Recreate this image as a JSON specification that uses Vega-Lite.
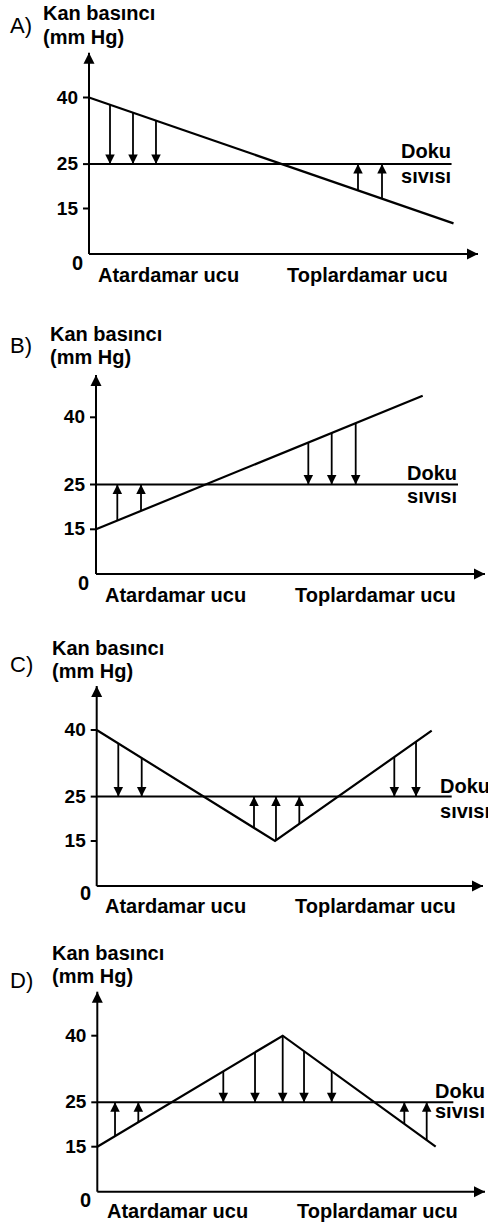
{
  "$schema": "https://vega.github.io/schema/vega-lite/v6.json",
  "padding": 0,
  "spacing": 0,
  "bounds": "flush",
  "background": "white",
  "config": {"view": {"stroke": null}},
  "resolve": {"scale": {"x": "independent", "y": "independent"}},
  "vconcat": [
    {
      "width": 488, "height": 300,
      "encoding": {
        "x": {"field": "x", "type": "quantitative", "scale": {"domain": [0, 100], "range": [89, 478]}, "axis": null},
        "y": {"field": "y", "type": "quantitative", "scale": {"domain": [0, 15, 40], "range": [254, 208.5, 97.5], "nice": false, "zero": false}, "axis": null}
      },
      "layer": [
        {"data": {"values": [{"x": 0, "y": 0, "x2": 0, "y2": 50.1, "dir": "up"}, {"x": 0, "y": 0, "x2": 100, "y2": 0, "dir": "right"}]},
         "layer": [
           {"mark": {"type": "rule", "color": "black", "strokeWidth": 2}, "encoding": {"x2": {"field": "x2"}, "y2": {"field": "y2"}}},
           {"mark": {"type": "point", "filled": true, "fill": "black", "strokeWidth": 0, "opacity": 1, "size": 121},
            "encoding": {"x": {"field": "x2", "type": "quantitative", "axis": null}, "y": {"field": "y2", "type": "quantitative", "axis": null},
                         "shape": {"field": "dir", "type": "nominal", "scale": {"domain": ["up", "down", "right"], "range": ["M0,0L-1,2L1,2Z", "M0,0L-1,-2L1,-2Z", "M0,0L-2,-1L-2,1Z"]}, "legend": null}}}
         ]},
        {"data": {"values": [{"x": 0, "xt": -1.55, "y": 15, "label": "15"}, {"x": 0, "xt": -1.55, "y": 25, "label": "25"}, {"x": 0, "xt": -1.55, "y": 40, "label": "40"}]},
         "layer": [
           {"mark": {"type": "rule", "color": "black", "strokeWidth": 2}, "encoding": {"x2": {"field": "xt"}}},
           {"mark": {"type": "text", "align": "right", "baseline": "middle", "dx": -11, "font": "Liberation Sans", "fontWeight": "bold", "fontSize": 19, "color": "black"}, "encoding": {"text": {"field": "label"}}}
         ]},
        {"data": {"values": [{"x": 0, "x2": 93.2, "y": 25}]}, "mark": {"type": "rule", "color": "black", "strokeWidth": 2}, "encoding": {"x2": {"field": "x2"}}},
        {"data": {"values": [{"x": 0, "y": 40}, {"x": 93.7, "y": 10.1}]}, "mark": {"type": "line", "color": "black", "strokeWidth": 2.2}},
        {"data": {"values": [
           {"x": 5.4, "y": 38.37, "y2": 25, "dir": "down"}, {"x": 11.31, "y": 36.58, "y2": 25, "dir": "down"}, {"x": 17.22, "y": 34.8, "y2": 25, "dir": "down"},
           {"x": 69.15, "y": 19.08, "y2": 25, "dir": "up"}, {"x": 75.32, "y": 17.21, "y2": 25, "dir": "up"}]},
         "layer": [
           {"mark": {"type": "rule", "color": "black", "strokeWidth": 1.8}, "encoding": {"y2": {"field": "y2"}}},
           {"mark": {"type": "point", "filled": true, "fill": "black", "strokeWidth": 0, "opacity": 1, "size": 90},
            "encoding": {"y": {"field": "y2", "type": "quantitative", "axis": null},
                         "shape": {"field": "dir", "type": "nominal", "scale": {"domain": ["up", "down", "right"], "range": ["M0,0L-1,2L1,2Z", "M0,0L-1,-2L1,-2Z", "M0,0L-2,-1L-2,1Z"]}, "legend": null}}}
         ]},
        {"data": {"values": [
           {"x": -11.83, "y": 57.45, "label": "Kan basıncı"}, {"x": -11.83, "y": 52.05, "label": "(mm Hg)"},
           {"x": -4.37, "y": -5.28, "label": "0"},
           {"x": 2.31, "y": -9.23, "label": "Atardamar ucu"}, {"x": 50.9, "y": -9.23, "label": "Toplardamar ucu"},
           {"x": 80.21, "y": 26.37, "label": "Doku"}, {"x": 80.21, "y": 20.74, "label": "sıvısı"}]},
         "mark": {"type": "text", "align": "left", "baseline": "alphabetic", "font": "Liberation Sans", "fontWeight": "bold", "fontSize": 20, "color": "black"},
         "encoding": {"text": {"field": "label"}}},
        {"data": {"values": [{"x": -20.31, "y": 54.53, "label": "A)"}]},
         "mark": {"type": "text", "align": "left", "baseline": "alphabetic", "font": "Liberation Sans", "fontWeight": "normal", "fontSize": 22, "color": "black"},
         "encoding": {"text": {"field": "label"}}}
      ]
    },
    {
      "width": 488, "height": 310,
      "encoding": {
        "x": {"field": "x", "type": "quantitative", "scale": {"domain": [0, 100], "range": [96, 485]}, "axis": null},
        "y": {"field": "y", "type": "quantitative", "scale": {"domain": [0, 15, 40], "range": [274, 229.3, 117.3], "nice": false, "zero": false}, "axis": null}
      },
      "layer": [
        {"data": {"values": [{"x": 0, "y": 0, "x2": 0, "y2": 49.44, "dir": "up"}, {"x": 0, "y": 0, "x2": 100, "y2": 0, "dir": "right"}]},
         "layer": [
           {"mark": {"type": "rule", "color": "black", "strokeWidth": 2}, "encoding": {"x2": {"field": "x2"}, "y2": {"field": "y2"}}},
           {"mark": {"type": "point", "filled": true, "fill": "black", "strokeWidth": 0, "opacity": 1, "size": 121},
            "encoding": {"x": {"field": "x2", "type": "quantitative", "axis": null}, "y": {"field": "y2", "type": "quantitative", "axis": null},
                         "shape": {"field": "dir", "type": "nominal", "scale": {"domain": ["up", "down", "right"], "range": ["M0,0L-1,2L1,2Z", "M0,0L-1,-2L1,-2Z", "M0,0L-2,-1L-2,1Z"]}, "legend": null}}}
         ]},
        {"data": {"values": [{"x": 0, "xt": -1.55, "y": 15, "label": "15"}, {"x": 0, "xt": -1.55, "y": 25, "label": "25"}, {"x": 0, "xt": -1.55, "y": 40, "label": "40"}]},
         "layer": [
           {"mark": {"type": "rule", "color": "black", "strokeWidth": 2}, "encoding": {"x2": {"field": "xt"}}},
           {"mark": {"type": "text", "align": "right", "baseline": "middle", "dx": -11, "font": "Liberation Sans", "fontWeight": "bold", "fontSize": 19, "color": "black"}, "encoding": {"text": {"field": "label"}}}
         ]},
        {"data": {"values": [{"x": 0, "x2": 93.06, "y": 25}]}, "mark": {"type": "rule", "color": "black", "strokeWidth": 2}, "encoding": {"x2": {"field": "x2"}}},
        {"data": {"values": [{"x": 0, "y": 15}, {"x": 83.98, "y": 44.82}]}, "mark": {"type": "line", "color": "black", "strokeWidth": 2.2}},
        {"data": {"values": [
           {"x": 5.48, "y": 16.94, "y2": 25, "dir": "up"}, {"x": 11.57, "y": 19.11, "y2": 25, "dir": "up"},
           {"x": 54.58, "y": 34.38, "y2": 25, "dir": "down"}, {"x": 60.59, "y": 36.52, "y2": 25, "dir": "down"}, {"x": 66.76, "y": 38.71, "y2": 25, "dir": "down"}]},
         "layer": [
           {"mark": {"type": "rule", "color": "black", "strokeWidth": 1.8}, "encoding": {"y2": {"field": "y2"}}},
           {"mark": {"type": "point", "filled": true, "fill": "black", "strokeWidth": 0, "opacity": 1, "size": 90},
            "encoding": {"y": {"field": "y2", "type": "quantitative", "axis": null},
                         "shape": {"field": "dir", "type": "nominal", "scale": {"domain": ["up", "down", "right"], "range": ["M0,0L-1,2L1,2Z", "M0,0L-1,-2L1,-2Z", "M0,0L-2,-1L-2,1Z"]}, "legend": null}}}
         ]},
        {"data": {"values": [
           {"x": -11.83, "y": 57.03, "label": "Kan basıncı"}, {"x": -11.83, "y": 51.9, "label": "(mm Hg)"},
           {"x": -4.63, "y": -5.37, "label": "0"},
           {"x": 2.31, "y": -9.4, "label": "Atardamar ucu"}, {"x": 51.16, "y": -9.4, "label": "Toplardamar ucu"},
           {"x": 79.95, "y": 26.0, "label": "Doku"}, {"x": 79.95, "y": 20.87, "label": "sıvısı"}]},
         "mark": {"type": "text", "align": "left", "baseline": "alphabetic", "font": "Liberation Sans", "fontWeight": "bold", "fontSize": 20, "color": "black"},
         "encoding": {"text": {"field": "label"}}},
        {"data": {"values": [{"x": -22.11, "y": 54.35, "label": "B)"}]},
         "mark": {"type": "text", "align": "left", "baseline": "alphabetic", "font": "Liberation Sans", "fontWeight": "normal", "fontSize": 22, "color": "black"},
         "encoding": {"text": {"field": "label"}}}
      ]
    },
    {
      "width": 488, "height": 305,
      "encoding": {
        "x": {"field": "x", "type": "quantitative", "scale": {"domain": [0, 100], "range": [96.7, 483]}, "axis": null},
        "y": {"field": "y", "type": "quantitative", "scale": {"domain": [0, 15, 40], "range": [276, 231, 120], "nice": false, "zero": false}, "axis": null}
      },
      "layer": [
        {"data": {"values": [{"x": 0, "y": 0, "x2": 0, "y2": 49.91, "dir": "up"}, {"x": 0, "y": 0, "x2": 100, "y2": 0, "dir": "right"}]},
         "layer": [
           {"mark": {"type": "rule", "color": "black", "strokeWidth": 2}, "encoding": {"x2": {"field": "x2"}, "y2": {"field": "y2"}}},
           {"mark": {"type": "point", "filled": true, "fill": "black", "strokeWidth": 0, "opacity": 1, "size": 121},
            "encoding": {"x": {"field": "x2", "type": "quantitative", "axis": null}, "y": {"field": "y2", "type": "quantitative", "axis": null},
                         "shape": {"field": "dir", "type": "nominal", "scale": {"domain": ["up", "down", "right"], "range": ["M0,0L-1,2L1,2Z", "M0,0L-1,-2L1,-2Z", "M0,0L-2,-1L-2,1Z"]}, "legend": null}}}
         ]},
        {"data": {"values": [{"x": 0, "xt": -1.55, "y": 15, "label": "15"}, {"x": 0, "xt": -1.55, "y": 25, "label": "25"}, {"x": 0, "xt": -1.55, "y": 40, "label": "40"}]},
         "layer": [
           {"mark": {"type": "rule", "color": "black", "strokeWidth": 2}, "encoding": {"x2": {"field": "xt"}}},
           {"mark": {"type": "text", "align": "right", "baseline": "middle", "dx": -11, "font": "Liberation Sans", "fontWeight": "bold", "fontSize": 19, "color": "black"}, "encoding": {"text": {"field": "label"}}}
         ]},
        {"data": {"values": [{"x": 0, "x2": 91.9, "y": 25}]}, "mark": {"type": "rule", "color": "black", "strokeWidth": 2}, "encoding": {"x2": {"field": "x2"}}},
        {"data": {"values": [{"x": 0, "y": 40}, {"x": 46.16, "y": 15}, {"x": 86.72, "y": 39.84}]}, "mark": {"type": "line", "color": "black", "strokeWidth": 2.2}},
        {"data": {"values": [
           {"x": 5.59, "y": 36.97, "y2": 25, "dir": "down"}, {"x": 11.65, "y": 33.69, "y2": 25, "dir": "down"},
           {"x": 40.72, "y": 17.95, "y2": 25, "dir": "up"}, {"x": 46.41, "y": 15.16, "y2": 25, "dir": "up"}, {"x": 52.45, "y": 18.85, "y2": 25, "dir": "up"},
           {"x": 77.04, "y": 33.92, "y2": 25, "dir": "down"}, {"x": 82.66, "y": 37.35, "y2": 25, "dir": "down"}]},
         "layer": [
           {"mark": {"type": "rule", "color": "black", "strokeWidth": 1.8}, "encoding": {"y2": {"field": "y2"}}},
           {"mark": {"type": "point", "filled": true, "fill": "black", "strokeWidth": 0, "opacity": 1, "size": 90},
            "encoding": {"y": {"field": "y2", "type": "quantitative", "axis": null},
                         "shape": {"field": "dir", "type": "nominal", "scale": {"domain": ["up", "down", "right"], "range": ["M0,0L-1,2L1,2Z", "M0,0L-1,-2L1,-2Z", "M0,0L-2,-1L-2,1Z"]}, "legend": null}}}
         ]},
        {"data": {"values": [
           {"x": -11.57, "y": 56.89, "label": "Kan basıncı"}, {"x": -11.57, "y": 51.71, "label": "(mm Hg)"},
           {"x": -4.32, "y": -4.67, "label": "0"},
           {"x": 2.15, "y": -9, "label": "Atardamar ucu"}, {"x": 51.33, "y": -9, "label": "Toplardamar ucu"},
           {"x": 88.87, "y": 25.81, "label": "Doku"}, {"x": 88.87, "y": 20.18, "label": "sıvısı"}]},
         "mark": {"type": "text", "align": "left", "baseline": "alphabetic", "font": "Liberation Sans", "fontWeight": "bold", "fontSize": 20, "color": "black"},
         "encoding": {"text": {"field": "label"}}},
        {"data": {"values": [{"x": -22.44, "y": 53.06, "label": "C)"}]},
         "mark": {"type": "text", "align": "left", "baseline": "alphabetic", "font": "Liberation Sans", "fontWeight": "normal", "fontSize": 22, "color": "black"},
         "encoding": {"text": {"field": "label"}}}
      ]
    },
    {
      "width": 488, "height": 308,
      "encoding": {
        "x": {"field": "x", "type": "quantitative", "scale": {"domain": [0, 100], "range": [97.3, 485]}, "axis": null},
        "y": {"field": "y", "type": "quantitative", "scale": {"domain": [0, 15, 40], "range": [276.7, 231.7, 120.7], "nice": false, "zero": false}, "axis": null}
      },
      "layer": [
        {"data": {"values": [{"x": 0, "y": 0, "x2": 0, "y2": 49.91, "dir": "up"}, {"x": 0, "y": 0, "x2": 100, "y2": 0, "dir": "right"}]},
         "layer": [
           {"mark": {"type": "rule", "color": "black", "strokeWidth": 2}, "encoding": {"x2": {"field": "x2"}, "y2": {"field": "y2"}}},
           {"mark": {"type": "point", "filled": true, "fill": "black", "strokeWidth": 0, "opacity": 1, "size": 121},
            "encoding": {"x": {"field": "x2", "type": "quantitative", "axis": null}, "y": {"field": "y2", "type": "quantitative", "axis": null},
                         "shape": {"field": "dir", "type": "nominal", "scale": {"domain": ["up", "down", "right"], "range": ["M0,0L-1,2L1,2Z", "M0,0L-1,-2L1,-2Z", "M0,0L-2,-1L-2,1Z"]}, "legend": null}}}
         ]},
        {"data": {"values": [{"x": 0, "xt": -1.55, "y": 15, "label": "15"}, {"x": 0, "xt": -1.55, "y": 25, "label": "25"}, {"x": 0, "xt": -1.55, "y": 40, "label": "40"}]},
         "layer": [
           {"mark": {"type": "rule", "color": "black", "strokeWidth": 2}, "encoding": {"x2": {"field": "xt"}}},
           {"mark": {"type": "text", "align": "right", "baseline": "middle", "dx": -11, "font": "Liberation Sans", "fontWeight": "bold", "fontSize": 19, "color": "black"}, "encoding": {"text": {"field": "label"}}}
         ]},
        {"data": {"values": [{"x": 0, "x2": 91.84, "y": 25}]}, "mark": {"type": "rule", "color": "black", "strokeWidth": 2}, "encoding": {"x2": {"field": "x2"}}},
        {"data": {"values": [{"x": 0, "y": 15}, {"x": 47.82, "y": 40}, {"x": 87.28, "y": 15}]}, "mark": {"type": "line", "color": "black", "strokeWidth": 2.2}},
        {"data": {"values": [
           {"x": 4.57, "y": 17.39, "y2": 25, "dir": "up"}, {"x": 10.58, "y": 20.53, "y2": 25, "dir": "up"},
           {"x": 32.5, "y": 31.98, "y2": 25, "dir": "down"}, {"x": 40.68, "y": 36.26, "y2": 25, "dir": "down"}, {"x": 47.82, "y": 40, "y2": 25, "dir": "down"},
           {"x": 53.32, "y": 36.52, "y2": 25, "dir": "down"}, {"x": 60.46, "y": 31.99, "y2": 25, "dir": "down"},
           {"x": 79.19, "y": 20.13, "y2": 25, "dir": "up"}, {"x": 84.96, "y": 16.46, "y2": 25, "dir": "up"}]},
         "layer": [
           {"mark": {"type": "rule", "color": "black", "strokeWidth": 1.8}, "encoding": {"y2": {"field": "y2"}}},
           {"mark": {"type": "point", "filled": true, "fill": "black", "strokeWidth": 0, "opacity": 1, "size": 90},
            "encoding": {"y": {"field": "y2", "type": "quantitative", "axis": null},
                         "shape": {"field": "dir", "type": "nominal", "scale": {"domain": ["up", "down", "right"], "range": ["M0,0L-1,2L1,2Z", "M0,0L-1,-2L1,-2Z", "M0,0L-2,-1L-2,1Z"]}, "legend": null}}}
         ]},
        {"data": {"values": [
           {"x": -11.68, "y": 57.05, "label": "Kan basıncı"}, {"x": -11.68, "y": 51.87, "label": "(mm Hg)"},
           {"x": -4.46, "y": -5.1, "label": "0"},
           {"x": 2.5, "y": -8.77, "label": "Atardamar ucu"}, {"x": 51.51, "y": -8.77, "label": "Toplardamar ucu"},
           {"x": 87.1, "y": 25.97, "label": "Doku"}, {"x": 87.1, "y": 21.46, "label": "sıvısı"}]},
         "mark": {"type": "text", "align": "left", "baseline": "alphabetic", "font": "Liberation Sans", "fontWeight": "bold", "fontSize": 20, "color": "black"},
         "encoding": {"text": {"field": "label"}}},
        {"data": {"values": [{"x": -22.52, "y": 50.74, "label": "D)"}]},
         "mark": {"type": "text", "align": "left", "baseline": "alphabetic", "font": "Liberation Sans", "fontWeight": "normal", "fontSize": 22, "color": "black"},
         "encoding": {"text": {"field": "label"}}}
      ]
    }
  ]
}
